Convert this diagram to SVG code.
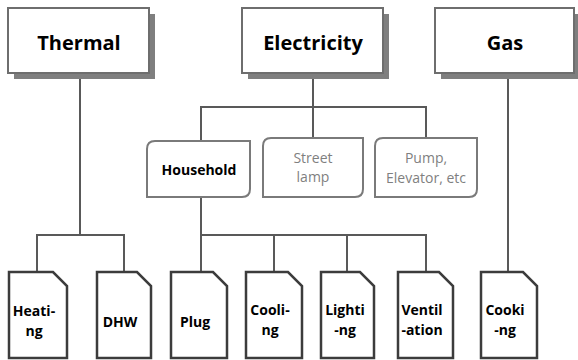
<svg xmlns="http://www.w3.org/2000/svg" width="578" height="360" viewBox="0 0 578 360">
<style>
.shadow{fill:#7f7f7f}
.top{fill:#fff;stroke:#6e6e6e;stroke-width:2}
.mid{fill:#fff;stroke:#7a7a7a;stroke-width:2}
.leaf{fill:#fff;stroke:#3c3c3c;stroke-width:2.5}
.conn{stroke:#595959;stroke-width:2;fill:none}
text{font-family:"Open Sans","Noto Sans","DejaVu Sans",sans-serif;text-anchor:middle}
.t1{font-size:20px;font-weight:bold;fill:#000}
.t2{font-size:14px;font-weight:bold;fill:#000}
.t3{font-size:14px;fill:#7f7f7f}
.t4{font-size:14px;font-weight:bold;fill:#000}
</style>
<rect width="578" height="360" fill="#fff"/>
<g id="connectors">
<path class="conn" d="M80 73V235M37 272V235H124V272"/>
<path class="conn" d="M313 73V107M201 141V107H426V138M313 107V138"/>
<path class="conn" d="M201 197V235M201 272V235H426V272M274 235V272M347 235V272"/>
<path class="conn" d="M508 73V272"/>
</g>
<g id="thermal">
<rect class="shadow" x="14" y="14" width="141" height="65"/>
<rect class="top" x="8" y="8" width="141" height="65"/>
<text class="t1" x="79" y="50">Thermal</text>
</g>
<g id="electricity">
<rect class="shadow" x="248" y="14" width="141" height="65"/>
<rect class="top" x="242" y="8" width="141" height="65"/>
<text class="t1" x="313" y="50">Electricity</text>
</g>
<g id="gas">
<rect class="shadow" x="441" y="14" width="139" height="65"/>
<rect class="top" x="435" y="8" width="139" height="65"/>
<text class="t1" x="505" y="50">Gas</text>
</g>
<g id="household">
<path class="mid" d="M155 141H250V189Q250 197 242 197H147V149Q147 141 155 141Z"/>
<text class="t2" x="199" y="175">Household</text>
</g>
<g id="streetlamp">
<path class="mid" d="M271 138H363V189Q363 197 355 197H263V146Q263 138 271 138Z"/>
<text class="t3" x="313" y="163">Street</text>
<text class="t3" x="313" y="182">lamp</text>
</g>
<g id="pump">
<path class="mid" d="M383 138H477V189Q477 197 469 197H375V146Q375 138 383 138Z"/>
<text class="t3" x="426" y="163">Pump,</text>
<text class="t3" x="426" y="183">Elevator, etc</text>
</g>
<g id="heating">
<path class="leaf" d="M9 272H53L67 286V358H9Z"/>
<text class="t4" x="34" y="316">Heati-</text>
<text class="t4" x="34" y="336">ng</text>
</g>
<g id="dhw">
<path class="leaf" d="M97 272H137L151 286V358H97Z"/>
<text class="t4" x="120" y="327">DHW</text>
</g>
<g id="plug">
<path class="leaf" d="M171 272H213L227 286V358H171Z"/>
<text class="t4" x="195" y="327">Plug</text>
</g>
<g id="cooling">
<path class="leaf" d="M246 272H288L302 286V358H246Z"/>
<text class="t4" x="270" y="315">Cooli-</text>
<text class="t4" x="270" y="335">ng</text>
</g>
<g id="lighting">
<path class="leaf" d="M321 272H360L374 286V358H321Z"/>
<text class="t4" x="345" y="315">Lighti</text>
<text class="t4" x="345" y="335">-ng</text>
</g>
<g id="ventilation">
<path class="leaf" d="M398 272H439L453 286V358H398Z"/>
<text class="t4" x="422" y="315">Ventil</text>
<text class="t4" x="422" y="335">-ation</text>
</g>
<g id="cooking">
<path class="leaf" d="M481 272H523L537 286V358H481Z"/>
<text class="t4" x="505" y="315">Cooki</text>
<text class="t4" x="505" y="335">-ng</text>
</g>
</svg>
